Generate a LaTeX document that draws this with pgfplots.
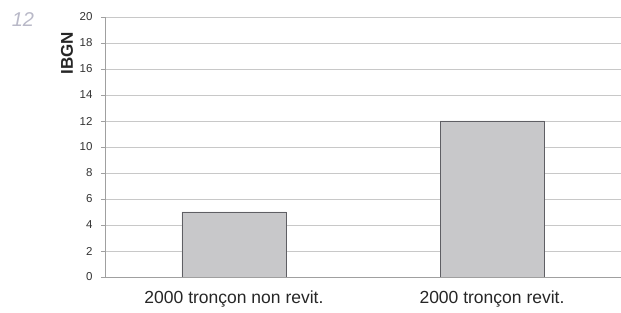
\documentclass[border=0pt]{standalone}
\usepackage{pgfplots}
\pgfplotsset{compat=1.18}
\usepackage{fontspec}
\setmainfont{Liberation Sans}
\definecolor{barfill}{RGB}{200,200,202}
\definecolor{bardraw}{RGB}{95,95,100}
\definecolor{gridc}{RGB}{200,200,200}
\definecolor{axc}{RGB}{160,160,160}
\definecolor{pagenum}{RGB}{185,185,200}
\begin{document}
\begin{tikzpicture}
\useasboundingbox (-105pt,-36pt) rectangle (516pt,277pt);
\begin{axis}[
  at={(0,0)}, anchor=south west,
  width=516pt, height=260pt, scale only axis,
  xmin=-0.5, xmax=1.5, ymin=0, ymax=20,
  ytick={0,2,...,20},
  xtick={0,1}, xticklabels={2000 tronçon non revit., 2000 tronçon revit.},
  major x tick style={draw=none},
  axis x line*=bottom, axis y line*=left,
  axis line style={axc, line width=0.6pt},
  y axis line style={-}, x axis line style={-},
  ymajorgrids, grid style={gridc, line width=0.6pt},
  ytick style={axc, line width=0.6pt},
  tick align=outside, major tick length=4pt,
  /pgf/number format/assume math mode=true,
  yticklabel style={font=\fontsize{11.5}{13}\selectfont, text=black!80, xshift=-5pt},
  xticklabel style={font=\fontsize{17.5}{20}\selectfont, text=black!85, yshift=-6pt},
  ybar, bar width=104pt,
]
\addplot[fill=barfill, draw=bardraw, line width=0.8pt] coordinates {(0,5) (1,12)};
\end{axis}
\node[rotate=90, font=\bfseries\fontsize{17}{20}\selectfont, text=black!85] at (-38pt,224pt) {IBGN};
\node[font=\itshape\fontsize{20}{22}\selectfont, text=pagenum] at (-82pt,257pt) {12};
\end{tikzpicture}
\end{document}
